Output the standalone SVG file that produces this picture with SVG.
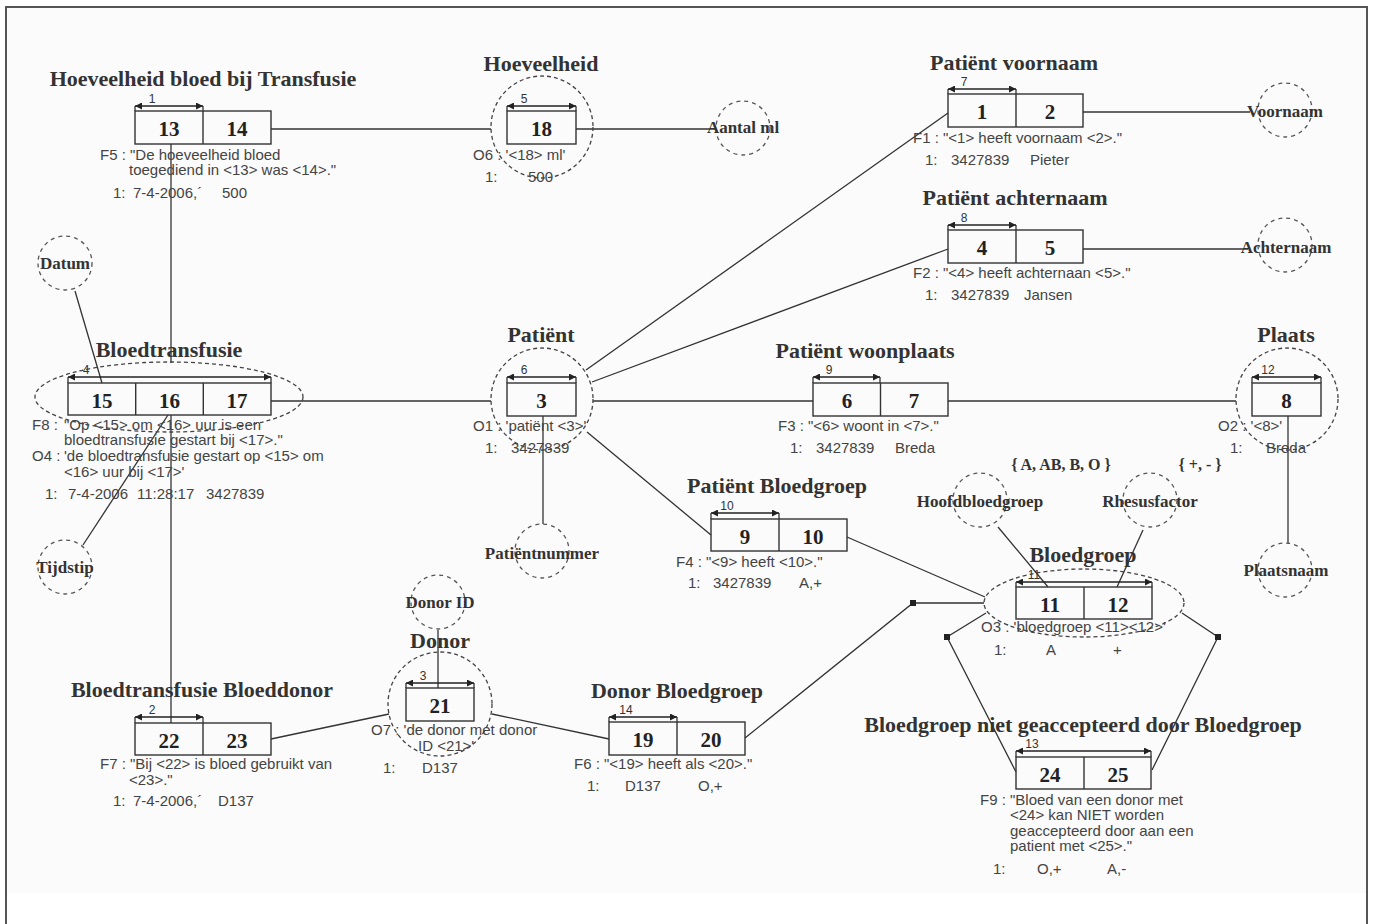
<svg xmlns="http://www.w3.org/2000/svg" width="1373" height="924" viewBox="0 0 1373 924">
<defs>
<marker id="ah" viewBox="0 0 8 8" refX="8" refY="4" markerWidth="7" markerHeight="7" orient="auto-start-reverse" markerUnits="userSpaceOnUse"><path d="M0,0 L8,4 L0,8 z" fill="#222"/></marker>
<style>
.t{font-family:"Liberation Serif","Times New Roman",serif;font-weight:bold;font-size:22px;fill:#333;text-anchor:middle}
.n{font-family:"Liberation Serif","Times New Roman",serif;font-weight:bold;font-size:21px;fill:#222;text-anchor:middle}
.a{font-family:"Liberation Serif","Times New Roman",serif;font-weight:bold;font-size:17px;fill:#333;text-anchor:middle}
.v{font-family:"Liberation Serif","Times New Roman",serif;font-weight:bold;font-size:16px;fill:#333;text-anchor:middle}
.s{font-family:"Liberation Sans",Arial,sans-serif;font-size:15px;fill:#444}
.k{font-family:"Liberation Sans",Arial,sans-serif;font-size:12px;fill:#333;text-anchor:middle}
.box{fill:none;stroke:#333;stroke-width:1.4}
.ring{fill:none;stroke:#444;stroke-width:1.3;stroke-dasharray:4 3}
.att{fill:none;stroke:#555;stroke-width:1.3;stroke-dasharray:4 4}
.con{fill:none;stroke:#333;stroke-width:1.3}
.dim{fill:none;stroke:#222;stroke-width:1.4;marker-start:url(#ah);marker-end:url(#ah)}
.tick{fill:none;stroke:#222;stroke-width:1.2}
.sq{fill:#222}
</style>
</defs>
<rect x="0" y="0" width="1373" height="924" fill="#fff"/>
<rect x="6" y="7" width="1361" height="886" fill="#fbfbfb"/>
<path d="M6,924 V7 H1367 V924" fill="none" stroke="#555" stroke-width="2"/>

<g id="connectors">
<path class="con" d="M271,129 H491"/>
<path class="con" d="M576,129 H716"/>
<path class="con" d="M171,144 V363"/>
<path class="con" d="M171,415 V723"/>
<path class="con" d="M75,291 L102,383"/>
<path class="con" d="M83,545 L168,415"/>
<path class="con" d="M271,401 H491"/>
<path class="con" d="M593,401 H813"/>
<path class="con" d="M948,401 H1236"/>
<path class="con" d="M1288,416 V543"/>
<path class="con" d="M543,416 V524"/>
<path class="con" d="M586,370 L948,113"/>
<path class="con" d="M592,382 L948,249"/>
<path class="con" d="M1083,112 H1250"/>
<path class="con" d="M1083,249 H1248"/>
<path class="con" d="M587,432 L711,535"/>
<path class="con" d="M847,537 L985,597"/>
<path class="con" d="M998,527 L1048,587"/>
<path class="con" d="M1143,530 L1117,587"/>
<path class="con" d="M271,739 L389,714"/>
<path class="con" d="M438,630 V688"/>
<path class="con" d="M492,714 L609,739"/>
<path class="con" d="M745,738 L913,603 H984"/>
<path class="con" d="M986,613 L947,637 L1016,772"/>
<path class="con" d="M1182,613 L1218,637 L1152,770"/>
<rect class="sq" x="910" y="600" width="6" height="6"/>
<rect class="sq" x="944" y="634" width="6" height="6"/>
<rect class="sq" x="1215" y="634" width="6" height="6"/>
</g>

<g id="f5-hoeveelheid-bloed">
<text class="t" x="203" y="86">Hoeveelheid bloed bij Transfusie</text>
<path class="dim" d="M135,106 H203"/><path class="tick" d="M135,106V111M203,106V111"/>
<text class="k" x="152" y="103">1</text>
<rect class="box" x="135" y="111" width="136" height="33"/><path class="box" d="M203,111V144"/>
<text class="n" x="169" y="136">13</text><text class="n" x="237" y="136">14</text>
<text class="s" x="100" y="160">F5 : "De hoeveelheid bloed</text>
<text class="s" x="129" y="175">toegediend in &lt;13&gt; was &lt;14&gt;."</text>
<text class="s" x="113" y="198">1:</text><text class="s" x="133" y="198">7-4-2006,´</text><text class="s" x="222" y="198">500</text>
</g>

<g id="o6-hoeveelheid">
<text class="t" x="541" y="71">Hoeveelheid</text>
<circle class="ring" cx="542" cy="127" r="51"/>
<path class="dim" d="M507,106 H576"/><path class="tick" d="M507,106V111M576,106V111"/>
<text class="k" x="524" y="103">5</text>
<rect class="box" x="507" y="111" width="69" height="33"/>
<text class="n" x="541.5" y="136">18</text>
<text class="s" x="473" y="160">O6 : '&lt;18&gt; ml'</text>
<text class="s" x="485" y="182">1:</text><text class="s" x="528" y="182">500</text>
</g>

<g id="attr-aantal-ml">
<circle class="att" cx="743" cy="128" r="27"/>
<text class="a" x="743" y="133">Aantal ml</text>
</g>

<g id="f1-patient-voornaam">
<text class="t" x="1014" y="70">Patiënt voornaam</text>
<path class="dim" d="M948,89 H1016"/><path class="tick" d="M948,89V94M1016,89V94"/>
<text class="k" x="964" y="86">7</text>
<rect class="box" x="948" y="94" width="135" height="33"/><path class="box" d="M1016,94V127"/>
<text class="n" x="982" y="119">1</text><text class="n" x="1050" y="119">2</text>
<text class="s" x="913" y="143">F1 : "&lt;1&gt; heeft voornaam &lt;2&gt;."</text>
<text class="s" x="925" y="165">1:</text><text class="s" x="951" y="165">3427839</text><text class="s" x="1030" y="165">Pieter</text>
</g>

<g id="attr-voornaam">
<circle class="att" cx="1285" cy="110" r="27"/>
<text class="a" x="1285" y="117">Voornaam</text>
</g>

<g id="f2-patient-achternaam">
<text class="t" x="1015" y="205">Patiënt achternaam</text>
<path class="dim" d="M948,225 H1016"/><path class="tick" d="M948,225V230M1016,225V230"/>
<text class="k" x="964" y="222">8</text>
<rect class="box" x="948" y="230" width="135" height="33"/><path class="box" d="M1016,230V263"/>
<text class="n" x="982" y="255">4</text><text class="n" x="1050" y="255">5</text>
<text class="s" x="913" y="278">F2 : "&lt;4&gt; heeft achternaan &lt;5&gt;."</text>
<text class="s" x="925" y="300">1:</text><text class="s" x="951" y="300">3427839</text><text class="s" x="1024" y="300">Jansen</text>
</g>

<g id="attr-achternaam">
<circle class="att" cx="1285" cy="245" r="27"/>
<text class="a" x="1286" y="253">Achternaam</text>
</g>

<g id="f8-bloedtransfusie">
<text class="t" x="169" y="357">Bloedtransfusie</text>
<ellipse class="ring" cx="169" cy="397" rx="134" ry="35"/>
<path class="dim" d="M68,377 H271"/><path class="tick" d="M68,377V383M271,377V383"/>
<text class="k" x="86" y="374">4</text>
<rect class="box" x="68" y="383" width="203" height="32"/><path class="box" d="M135.7,383V415M203.3,383V415"/>
<text class="n" x="102" y="408">15</text><text class="n" x="169.5" y="408">16</text><text class="n" x="237" y="408">17</text>
<text class="s" x="32" y="430">F8 :</text><text class="s" x="64" y="430">"Op &lt;15&gt; om &lt;16&gt; uur is een</text>
<text class="s" x="64" y="445">bloedtransfusie gestart bij &lt;17&gt;."</text>
<text class="s" x="32" y="461">O4 :</text><text class="s" x="64" y="461">'de bloedtransfusie gestart op &lt;15&gt; om</text>
<text class="s" x="64" y="477">&lt;16&gt; uur bij &lt;17&gt;'</text>
<text class="s" x="45" y="499">1:</text><text class="s" x="68" y="499">7-4-2006</text><text class="s" x="137" y="499">11:28:17</text><text class="s" x="206" y="499">3427839</text>
</g>

<g id="attr-datum">
<circle class="att" cx="65" cy="263" r="27"/>
<text class="a" x="65" y="269">Datum</text>
</g>

<g id="attr-tijdstip">
<circle class="att" cx="65" cy="567" r="27"/>
<text class="a" x="65" y="573">Tijdstip</text>
</g>

<g id="o1-patient">
<text class="t" x="541" y="342">Patiënt</text>
<circle class="ring" cx="542" cy="399" r="51"/>
<path class="dim" d="M507,377 H576"/><path class="tick" d="M507,377V383M576,377V383"/>
<text class="k" x="524" y="374">6</text>
<rect class="box" x="507" y="383" width="69" height="33"/>
<text class="n" x="541.5" y="408">3</text>
<text class="s" x="473" y="431">O1 : 'patiënt &lt;3&gt;'</text>
<text class="s" x="485" y="453">1:</text><text class="s" x="511" y="453">3427839</text>
</g>

<g id="attr-patientnummer">
<circle class="att" cx="542" cy="551" r="27"/>
<text class="a" x="542" y="559">Patiëntnummer</text>
</g>

<g id="f3-patient-woonplaats">
<text class="t" x="865" y="358">Patiënt woonplaats</text>
<path class="dim" d="M813,377 H880"/><path class="tick" d="M813,377V383M880,377V383"/>
<text class="k" x="829" y="374">9</text>
<rect class="box" x="813" y="383" width="135" height="33"/><path class="box" d="M880.5,383V416"/>
<text class="n" x="847" y="408">6</text><text class="n" x="914" y="408">7</text>
<text class="s" x="778" y="431">F3 : "&lt;6&gt; woont in &lt;7&gt;."</text>
<text class="s" x="790" y="453">1:</text><text class="s" x="816" y="453">3427839</text><text class="s" x="895" y="453">Breda</text>
</g>

<g id="o2-plaats">
<text class="t" x="1286" y="342">Plaats</text>
<circle class="ring" cx="1287" cy="399" r="51"/>
<path class="dim" d="M1252,377 H1321"/><path class="tick" d="M1252,377V383M1321,377V383"/>
<text class="k" x="1268" y="374">12</text>
<rect class="box" x="1252" y="383" width="69" height="33"/>
<text class="n" x="1286.5" y="408">8</text>
<text class="s" x="1218" y="431">O2 : '&lt;8&gt;'</text>
<text class="s" x="1230" y="453">1:</text><text class="s" x="1266" y="453">Breda</text>
</g>

<g id="attr-plaatsnaam">
<circle class="att" cx="1285" cy="570" r="27"/>
<text class="a" x="1286" y="576">Plaatsnaam</text>
</g>

<g id="f4-patient-bloedgroep">
<text class="t" x="777" y="493">Patiënt Bloedgroep</text>
<path class="dim" d="M711,513 H779"/><path class="tick" d="M711,513V519M779,513V519"/>
<text class="k" x="727" y="510">10</text>
<rect class="box" x="711" y="519" width="136" height="32"/><path class="box" d="M779,519V551"/>
<text class="n" x="745" y="544">9</text><text class="n" x="813" y="544">10</text>
<text class="s" x="676" y="567">F4 : "&lt;9&gt; heeft &lt;10&gt;."</text>
<text class="s" x="688" y="588">1:</text><text class="s" x="713" y="588">3427839</text><text class="s" x="799" y="588">A,+</text>
</g>

<g id="attr-hoofdbloedgroep">
<text class="v" x="1061" y="470">{ A, AB, B, O }</text>
<circle class="att" cx="980" cy="500" r="27"/>
<text class="a" x="980" y="507">Hoofdbloedgroep</text>
</g>

<g id="attr-rhesusfactor">
<text class="v" x="1200" y="470">{ +, - }</text>
<circle class="att" cx="1150" cy="500" r="27"/>
<text class="a" x="1150" y="507">Rhesusfactor</text>
</g>

<g id="o3-bloedgroep">
<text class="t" x="1083" y="562">Bloedgroep</text>
<ellipse class="ring" cx="1084" cy="603" rx="100" ry="34"/>
<path class="dim" d="M1016,582 H1152"/><path class="tick" d="M1016,582V587M1152,582V587"/>
<text class="k" x="1034" y="579">11</text>
<rect class="box" x="1016" y="587" width="136" height="32"/><path class="box" d="M1084,587V619"/>
<text class="n" x="1050" y="612">11</text><text class="n" x="1118" y="612">12</text>
<text class="s" x="981" y="632">O3 : 'bloedgroep &lt;11&gt;&lt;12&gt;'</text>
<text class="s" x="994" y="655">1:</text><text class="s" x="1046" y="655">A</text><text class="s" x="1113" y="655">+</text>
</g>

<g id="f9-bloedgroep-niet-geaccepteerd">
<text class="t" x="1083" y="732">Bloedgroep niet geaccepteerd door Bloedgroep</text>
<path class="dim" d="M1016,751 H1151"/><path class="tick" d="M1016,751V757M1151,751V757"/>
<text class="k" x="1032" y="748">13</text>
<rect class="box" x="1016" y="757" width="135" height="32"/><path class="box" d="M1084,757V789"/>
<text class="n" x="1050" y="782">24</text><text class="n" x="1118" y="782">25</text>
<text class="s" x="980" y="805">F9 :</text>
<text class="s" x="1010" y="805">"Bloed van een donor met</text>
<text class="s" x="1010" y="820">&lt;24&gt; kan NIET worden</text>
<text class="s" x="1010" y="836">geaccepteerd door aan een</text>
<text class="s" x="1010" y="851">patient met &lt;25&gt;."</text>
<text class="s" x="993" y="874">1:</text><text class="s" x="1037" y="874">O,+</text><text class="s" x="1107" y="874">A,-</text>
</g>

<g id="f7-bloedtransfusie-bloeddonor">
<text class="t" x="202" y="697">Bloedtransfusie Bloeddonor</text>
<path class="dim" d="M135,717 H203"/><path class="tick" d="M135,717V723M203,717V723"/>
<text class="k" x="152" y="714">2</text>
<rect class="box" x="135" y="723" width="136" height="32"/><path class="box" d="M203,723V755"/>
<text class="n" x="169" y="748">22</text><text class="n" x="237" y="748">23</text>
<text class="s" x="100" y="769">F7 : "Bij &lt;22&gt; is bloed gebruikt van</text>
<text class="s" x="129" y="785">&lt;23&gt;."</text>
<text class="s" x="113" y="806">1:</text><text class="s" x="133" y="806">7-4-2006,´</text><text class="s" x="218" y="806">D137</text>
</g>

<g id="o7-donor">
<text class="t" x="440" y="648">Donor</text>
<circle class="ring" cx="440" cy="704" r="52"/>
<path class="dim" d="M406,683 H474"/><path class="tick" d="M406,683V688M474,683V688"/>
<text class="k" x="423" y="680">3</text>
<rect class="box" x="406" y="688" width="68" height="33"/>
<text class="n" x="440" y="713">21</text>
<text class="s" x="371" y="735">O7 : 'de donor met donor</text>
<text class="s" x="418" y="751">ID &lt;21&gt;'</text>
<text class="s" x="383" y="773">1:</text><text class="s" x="422" y="773">D137</text>
</g>

<g id="attr-donor-id">
<circle class="att" cx="438" cy="602" r="27"/>
<text class="a" x="440" y="608">Donor ID</text>
</g>

<g id="f6-donor-bloedgroep">
<text class="t" x="677" y="698">Donor Bloedgroep</text>
<path class="dim" d="M609,717 H677"/><path class="tick" d="M609,717V722M677,717V722"/>
<text class="k" x="626" y="714">14</text>
<rect class="box" x="609" y="722" width="136" height="33"/><path class="box" d="M677,722V755"/>
<text class="n" x="643" y="747">19</text><text class="n" x="711" y="747">20</text>
<text class="s" x="574" y="769">F6 : "&lt;19&gt; heeft als &lt;20&gt;."</text>
<text class="s" x="587" y="791">1:</text><text class="s" x="625" y="791">D137</text><text class="s" x="698" y="791">O,+</text>
</g>
</svg>
